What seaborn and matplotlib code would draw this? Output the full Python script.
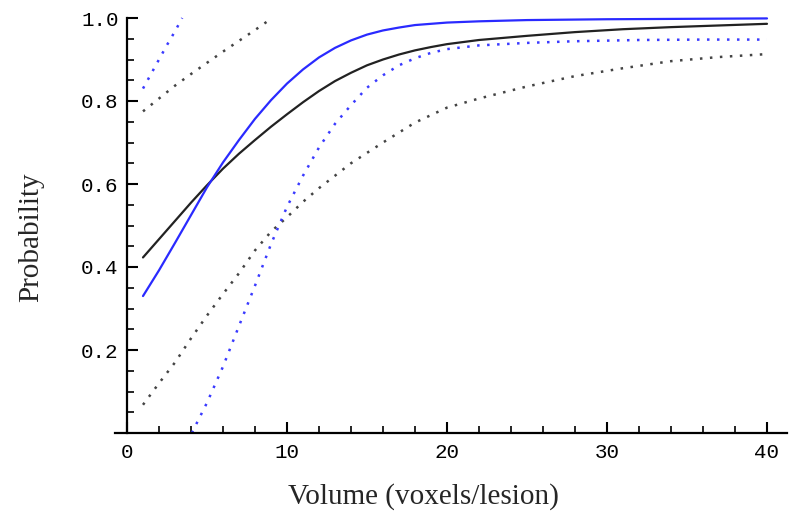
import seaborn as sns
import matplotlib
matplotlib.use("Agg")
import matplotlib.pyplot as plt
from matplotlib.ticker import MultipleLocator, FormatStrFormatter

# values
black_x = [1, 2, 3, 4, 5, 6, 7, 8, 9, 10, 11, 12, 13, 14, 15, 16, 17, 18, 19, 20, 22, 25, 28, 31, 34, 37, 40]
black_y = [0.423, 0.467, 0.511, 0.555, 0.597, 0.637, 0.673, 0.706, 0.738, 0.768, 0.797, 0.824,
           0.848, 0.868, 0.886, 0.9, 0.912, 0.922, 0.93, 0.937, 0.947, 0.957, 0.966, 0.973,
           0.978, 0.982, 0.986]

blue_x = [1, 2, 3, 4, 5, 6, 7, 8, 9, 10, 11, 12, 13, 14, 15, 16, 17, 18, 20, 22, 25, 30, 35, 40]
blue_y = [0.33, 0.392, 0.458, 0.525, 0.592, 0.652, 0.706, 0.757, 0.802, 0.842, 0.876, 0.905,
          0.928, 0.946, 0.96, 0.97, 0.977, 0.983, 0.989, 0.992, 0.995, 0.997, 0.998, 0.999]

black_hi_x = [1, 2, 3, 4, 5, 6, 7, 8, 9]
black_hi_y = [0.775, 0.806, 0.837, 0.865, 0.892, 0.919, 0.945, 0.971, 0.998]

black_lo_x = [1, 2, 3, 4, 5, 6, 7, 8, 9, 10, 11, 12, 14, 16, 18, 20, 22, 25, 28, 31, 34, 37, 40]
black_lo_y = [0.068, 0.12, 0.17, 0.228, 0.283, 0.335, 0.385, 0.44, 0.485, 0.52, 0.557, 0.59,
              0.65, 0.7, 0.748, 0.784, 0.806, 0.835, 0.86, 0.879, 0.896, 0.906, 0.913]

blue_hi_x = [1, 1.5, 2, 2.5, 3, 3.45]
blue_hi_y = [0.83, 0.865, 0.9, 0.935, 0.968, 1.0]

blue_lo_x = [4.05, 5, 6, 7, 8, 9, 10, 11, 12, 13, 14, 15, 16, 17, 18, 19, 20, 22, 25, 28, 32, 36, 40]
blue_lo_y = [0.0, 0.073, 0.16, 0.258, 0.355, 0.455, 0.545, 0.62, 0.688, 0.745, 0.79, 0.832,
             0.862, 0.886, 0.903, 0.916, 0.925, 0.934, 0.94, 0.944, 0.947, 0.948, 0.948]

sns.set_theme(style="white")

fig = plt.figure(figsize=(7.89, 5.25), dpi=100)
ax = fig.add_axes([115 / 789, 92 / 525, 672 / 789, 419.15 / 525])

dots = (0, (1, 3))
sns.lineplot(x=black_lo_x, y=black_lo_y, ax=ax, color="#444444", lw=1.8, linestyle=dots)
sns.lineplot(x=black_hi_x, y=black_hi_y, ax=ax, color="#444444", lw=1.8, linestyle=dots)
sns.lineplot(x=blue_lo_x, y=blue_lo_y, ax=ax, color="#3a3aff", lw=1.8, linestyle=dots)
sns.lineplot(x=blue_hi_x, y=blue_hi_y, ax=ax, color="#3a3aff", lw=1.8, linestyle=dots)
sns.lineplot(x=black_x, y=black_y, ax=ax, color="#222222", lw=1.6)
sns.lineplot(x=blue_x, y=blue_y, ax=ax, color="#2a2aff", lw=1.6)

ax.set_xlim(-0.75, 41.25)
ax.set_ylim(0, 1.01)

for s in ["top", "right"]:
    ax.spines[s].set_visible(False)
ax.spines["left"].set_position(("data", 0))
ax.spines["left"].set_bounds(0, 1.0)
ax.spines["bottom"].set_position(("data", 0))
for s in ["left", "bottom"]:
    ax.spines[s].set_color("black")
    ax.spines[s].set_linewidth(1.6)

ax.xaxis.set_major_locator(MultipleLocator(10))
ax.xaxis.set_minor_locator(MultipleLocator(2))
ax.yaxis.set_major_locator(MultipleLocator(0.2))
ax.yaxis.set_minor_locator(MultipleLocator(0.05))
ax.yaxis.set_major_formatter(FormatStrFormatter("%.1f"))
ax.set_yticks([0.2, 0.4, 0.6, 0.8, 1.0])

ax.tick_params(which="major", direction="in", length=8, width=1.5, color="black")
ax.tick_params(which="minor", direction="in", length=5, width=1.2, color="black")
ax.tick_params(axis="x", which="both", bottom=True, pad=7)
ax.tick_params(axis="y", which="both", left=True, pad=6)
for lab in ax.get_xticklabels() + ax.get_yticklabels():
    lab.set_family("Liberation Mono")
    lab.set_fontsize(15)
    lab.set_color("black")

fig.text(423 / 789, 1 - 497 / 525, "Volume (voxels/lesion)", family="Liberation Serif",
         fontsize=21, ha="center", va="center")
fig.text(31 / 789, 1 - 237 / 525, "Probability", family="Liberation Serif",
         fontsize=21, ha="center", va="center", rotation=90)

plt.savefig("out.png", dpi=100)
